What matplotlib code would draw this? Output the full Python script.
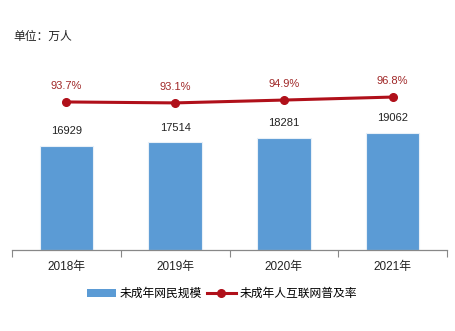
import numpy as np
import matplotlib.pyplot as plt
from matplotlib.lines import Line2D
from matplotlib.patches import Patch

plt.rcParams['font.family'] = ['Liberation Sans', 'Noto Sans CJK SC', 'DejaVu Sans']

years = ['2018年', '2019年', '2020年', '2021年']
users = [16929, 17514, 18281, 19062]
rate = [93.7, 93.1, 94.9, 96.8]

bar_color = '#5B9BD5'
line_color = '#B0101A'

fig = plt.figure(figsize=(4.55, 3.31), dpi=100)
ax = fig.add_axes([12 / 455, 81 / 331, 435 / 455, 158 / 331])
x = np.arange(len(years))

ax.bar(x, users, width=0.49, color=bar_color, edgecolor='#E8F0F8', linewidth=0.8, zorder=2)
for xi, v in zip(x, users):
    ax.annotate(str(v), (xi, v), xytext=(0, 7), textcoords='offset points',
                ha='center', va='bottom', fontsize=8, color='#222222')
ax.set_xlim(-0.5, len(years) - 0.5)
ax.set_ylim(0, 25740)
ax.set_yticks([])
ax.set_xticks(x)
ax.set_xticklabels(years, fontsize=8.5, color='#222222')
ax.tick_params(axis='x', length=0, pad=8)
ax.set_xticks(np.arange(len(years) + 1) - 0.5, minor=True)
ax.tick_params(axis='x', which='minor', length=5, color='#888888', width=0.8)
for s in ['top', 'right', 'left']:
    ax.spines[s].set_visible(False)
ax.spines['bottom'].set_color('#888888')
ax.spines['bottom'].set_linewidth(0.9)

ax2 = ax.twinx()
ax2.plot(x, rate, color=line_color, linewidth=2.2, marker='o', markersize=5.5, zorder=3)
for xi, v in zip(x, rate):
    ax2.annotate(f'{v}%', (xi, v), xytext=(0, 8), textcoords='offset points',
                 ha='center', va='bottom', fontsize=8, color='#A02828')
ax2.set_ylim(0, 100)
ax2.set_yticks([])
for s in ['top', 'right', 'left', 'bottom']:
    ax2.spines[s].set_visible(False)

fig.text(13 / 455, 1 - 37 / 331, '单位：万人', fontsize=8.5, color='#222222', va='center', ha='left')

handles = [Patch(facecolor=bar_color, edgecolor='none'),
           Line2D([0], [0], color=line_color, linewidth=2.2, marker='o', markersize=5.5)]
fig.legend(handles, ['未成年网民规模', '未成年人互联网普及率'], loc='center',
           bbox_to_anchor=(222 / 455, 1 - 294 / 331), ncol=2, frameon=False,
           fontsize=8.5, handlelength=2.4, handletextpad=0.3, columnspacing=0.5)

fig.savefig('out.png', dpi=100)
